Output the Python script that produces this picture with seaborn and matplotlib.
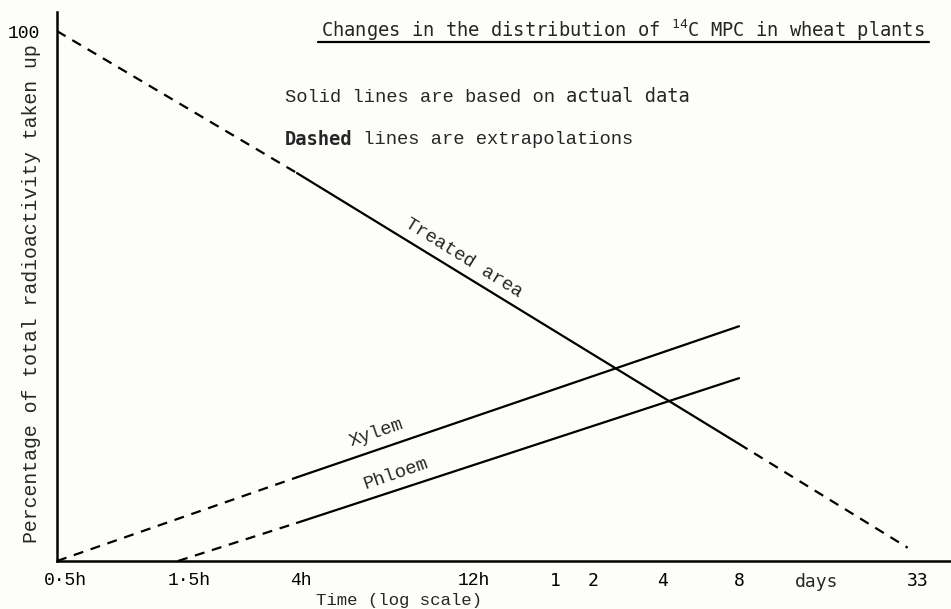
import numpy as np
import pandas as pd
import matplotlib
matplotlib.use("Agg")
import matplotlib.pyplot as plt
from matplotlib.lines import Line2D
from matplotlib.transforms import ScaledTranslation
import seaborn as sns

# ---------------- data ----------------
treated_hours = [0.5, 4, 192, 730]
treated_pct = [100, 73.2, 22.1, 2.5]
treated_kind = ["dashed", "solid", "dashed"]

xylem_hours = [0.5, 4, 192]
xylem_pct = [0, 15.8, 44.3]
xylem_kind = ["dashed", "solid"]

phloem_hours = [1.5, 4, 192]
phloem_pct = [0, 7.2, 34.5]
phloem_kind = ["dashed", "solid"]

tick_hours = [0.5, 1.5, 4, 12, 24, 48, 96, 192]
tick_labels = ["0·5h", "1·5h", "4h", "12h", "1", "2", "4", "8"]
end_hours = [792]
end_labels = ["33"]
y_ticks = [20, 40, 60, 80, 100]
y_labels = ["", "", "", "", "100"]

# ---------------- hand-drawn "log" time axis ----------------
SCALE_HOURS = np.array([0.5, 1.5, 4, 12, 24, 48, 96, 192, 792])
SCALE_POS = np.array([0, 121, 240, 417, 498, 536, 606, 682, 861], float)
LX = np.log(SCALE_HOURS)
SL = (SCALE_POS[1] - SCALE_POS[0]) / (LX[1] - LX[0])
SR = (SCALE_POS[-1] - SCALE_POS[-2]) / (LX[-1] - LX[-2])


def fwd(h):
    lx = np.log(np.clip(np.asarray(h, float), 1e-6, None))
    out = np.interp(lx, LX, SCALE_POS)
    out = np.where(lx > LX[-1], SCALE_POS[-1] + (lx - LX[-1]) * SR, out)
    out = np.where(lx < LX[0], SCALE_POS[0] + (lx - LX[0]) * SL, out)
    return out


def inv(p):
    p = np.asarray(p, float)
    lx = np.interp(p, SCALE_POS, LX)
    lx = np.where(p > SCALE_POS[-1], LX[-1] + (p - SCALE_POS[-1]) / SR, lx)
    lx = np.where(p < SCALE_POS[0], LX[0] + (p - SCALE_POS[0]) / SL, lx)
    return np.exp(lx)


# ---------------- build long table of segments ----------------
rows = []
seg = 0
for name, hrs, pct, kinds in [
    ("Treated area", treated_hours, treated_pct, treated_kind),
    ("Xylem", xylem_hours, xylem_pct, xylem_kind),
    ("Phloem", phloem_hours, phloem_pct, phloem_kind),
]:
    for i, k in enumerate(kinds):
        for j in (i, i + 1):
            rows.append({"series": name, "seg": seg, "kind": k,
                         "hours": hrs[j], "pct": pct[j]})
        seg += 1
df = pd.DataFrame(rows)

# ---------------- figure ----------------
sns.set_theme(style="white")
plt.rcParams["font.family"] = ["Liberation Mono", "DejaVu Sans Mono"]
plt.rcParams["mathtext.fontset"] = "custom"
plt.rcParams["mathtext.rm"] = "DejaVu Sans Mono"
plt.rcParams["mathtext.it"] = "DejaVu Sans Mono"

W, H = 951, 609
bg = "#fdfdfa"
fig = plt.figure(figsize=(W / 100, H / 100), dpi=100, facecolor=bg)
ax = fig.add_axes([57 / W, 48 / H, (W - 57) / W, (561 - 12) / H])
ax.set_facecolor(bg)

sns.lineplot(data=df, x="hours", y="pct", units="seg", style="kind",
             estimator=None, sort=False, color="black",
             dashes={"solid": "", "dashed": (4.5, 3.5)},
             linewidth=1.6, legend=False, ax=ax)

ax.set_xscale("function", functions=(fwd, inv))
ax.set_xlim(0.5, float(inv(W - 57)))
ax.set_ylim(0, 103.6)

ax.set_xticks(tick_hours, labels=tick_labels)
ax.set_xticks(end_hours, labels=end_labels, minor=True)
ax.set_yticks(y_ticks, labels=y_labels)

for s in ["top", "right"]:
    ax.spines[s].set_visible(False)
for s in ["left", "bottom"]:
    ax.spines[s].set_color("black")
    ax.spines[s].set_linewidth(1.8)

ax.tick_params(axis="x", which="major", direction="out", length=3, width=1.6,
               pad=5, labelsize=13, colors="black")
ax.tick_params(axis="x", which="minor", length=0, pad=8, labelsize=13,
               colors="black")
ax.tick_params(axis="y", direction="out", length=3, width=1.6, pad=9,
               labelsize=13, colors="black")
shifts = {"0·5h": 8, "1·5h": 11, "4h": 4}
for lab in ax.get_xticklabels() + ax.get_xticklabels(minor=True):
    t = lab.get_text()
    if "h" not in t:
        lab.set_fontfamily("DejaVu Sans Mono")
    if t in shifts:
        lab.set_transform(lab.get_transform()
                          + ScaledTranslation(shifts[t] / 100, 0,
                                              fig.dpi_scale_trans))
ax.set_xlabel("")
ax.set_ylabel("")

# "days" label placed relative to the 8-day tick
ax.annotate("days", xy=(192, 0), xycoords=("data", "axes fraction"),
            xytext=(56, -8.6), textcoords="offset points", ha="center",
            va="top", fontsize=13, fontfamily="DejaVu Sans Mono")


def fy(y):
    return 1 - y / H


# axis titles
fig.text(399 / W, fy(601), "Time (log scale)", ha="center", va="center",
         fontsize=12.5)
fig.text(32 / W, fy(294), "Percentage of total radioactivity taken up",
         rotation=90, ha="center", va="center", fontsize=14.3)

# chart title with underline
fig.text(321 / W, fy(37), r"Changes in the distribution of ${}^{14}$C MPC in wheat plants",
         ha="left", va="baseline", fontsize=13.5, fontfamily="DejaVu Sans Mono")
fig.add_artist(Line2D([318 / W, 929 / W], [fy(42), fy(42)],
                      transform=fig.transFigure, color="black", lw=1.6))

# notes
CH = 0.6 * 13.5  # char width in points (monospace)
fig.text(285 / W, fy(97), "Solid lines are based on ", ha="left", va="center",
         fontsize=13.5)
ax.annotate("actual data", xy=(285 / W, fy(97)), xycoords="figure fraction",
            xytext=(25 * CH, 0), textcoords="offset points", ha="left",
            va="center", fontsize=13.5, fontfamily="DejaVu Sans Mono")
fig.text(285 / W, fy(140), "Dashed", ha="left", va="center", fontsize=13.5,
         fontfamily="DejaVu Sans Mono", fontweight="bold")
ax.annotate(" lines are extrapolations", xy=(285 / W, fy(140)),
            xycoords="figure fraction", xytext=(6 * CH, 0),
            textcoords="offset points", ha="left", va="center", fontsize=13.5)

# line labels
fig.text(464 / W, fy(258), "Treated area", rotation=-32, ha="center",
         va="center", fontsize=13.5, rotation_mode="anchor")
fig.text(376 / W, fy(433), "Xylem", rotation=19, ha="center", va="center",
         fontsize=13.5, rotation_mode="anchor")
fig.text(396 / W, fy(474), "Phloem", rotation=19, ha="center", va="center",
         fontsize=13.5, rotation_mode="anchor")

fig.savefig("out.png", dpi=100, facecolor=bg)
